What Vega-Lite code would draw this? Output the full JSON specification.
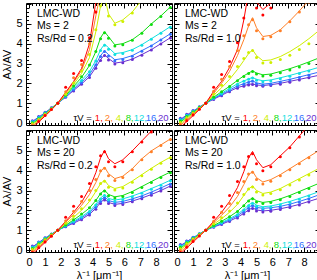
{
"$schema":"https://vega.github.io/schema/vega-lite/v6.json",
"padding":{"left":1,"right":2,"top":2,"bottom":0},
"background":"white",
"config":{"font":"Liberation Sans","view":{"stroke":"black","strokeWidth":1},
"axis":{"domain":false,"grid":false,"tickColor":"black","tickWidth":1,"labelColor":"black","labelFontSize":11,"titleFontSize":11,"titleFontWeight":"normal","titleColor":"black","minExtent":0,"labelFlush":false}},
"datasets":{
"lab":[{"p":1,"x":0.49,"y":5.5,"s":"LMC-WD"},{"p":1,"x":0.49,"y":4.89,"s":"Ms = 2"},{"p":1,"x":0.49,"y":4.26,"s":"Rs/Rd = 0.2"},
{"p":2,"x":0.49,"y":5.5,"s":"LMC-WD"},{"p":2,"x":0.49,"y":4.89,"s":"Ms = 2"},{"p":2,"x":0.49,"y":4.26,"s":"Rs/Rd = 1.0"},
{"p":3,"x":0.49,"y":5.5,"s":"LMC-WD"},{"p":3,"x":0.49,"y":4.89,"s":"Ms = 20"},{"p":3,"x":0.49,"y":4.26,"s":"Rs/Rd = 0.2"},
{"p":4,"x":0.49,"y":5.5,"s":"LMC-WD"},{"p":4,"x":0.49,"y":4.89,"s":"Ms = 20"},{"p":4,"x":0.49,"y":4.26,"s":"Rs/Rd = 1.0"}],
"leg":[{"t":0,"x":3.95,"y":0.25,"s":"τV ="},{"t":1,"x":4.14,"y":0.25,"s":"1,"},{"t":2,"x":4.77,"y":0.25,"s":"2,"},{"t":4,"x":5.46,"y":0.25,"s":"4,"},{"t":8,"x":6.09,"y":0.25,"s":"8,"},{"t":12,"x":6.59,"y":0.25,"s":"12,"},{"t":16,"x":7.35,"y":0.25,"s":"16,"},{"t":20,"x":8.11,"y":0.25,"s":"20"}],
"c":[
{"p":1,"t":20,"x":0.2,"l":0.08,"d":0.12},{"p":1,"t":20,"x":0.6,"l":0.3,"d":0.33},{"p":1,"t":20,"x":1.0,"l":0.52,"d":0.54},{"p":1,"t":20,"x":1.4,"l":0.76,"d":0.77},{"p":1,"t":20,"x":1.8,"l":1.0,"d":1.0},{"p":1,"t":20,"x":2.3,"l":1.3,"d":1.3},{"p":1,"t":20,"x":2.8,"l":1.64,"d":1.62},{"p":1,"t":20,"x":3.3,"l":1.97,"d":1.95},{"p":1,"t":20,"x":3.8,"l":2.33,"d":2.3},{"p":1,"t":20,"x":4.2,"l":2.8,"d":2.76},{"p":1,"t":20,"x":4.5,"l":3.2,"d":3.15},{"p":1,"t":20,"x":4.75,"l":3.44,"d":3.4},{"p":1,"t":20,"x":5.0,"l":3.25,"d":3.18},{"p":1,"t":20,"x":5.4,"l":3.02,"d":2.98},{"p":1,"t":20,"x":5.9,"l":3.08,"d":3.04},{"p":1,"t":20,"x":6.5,"l":3.22,"d":3.2},{"p":1,"t":20,"x":7.1,"l":3.45,"d":3.42},{"p":1,"t":20,"x":7.7,"l":3.7,"d":3.68},{"p":1,"t":20,"x":8.3,"l":4.0,"d":3.98},{"p":1,"t":20,"x":8.9,"l":4.3,"d":4.28},
{"p":1,"t":16,"x":0.2,"l":0.05,"d":0.09},{"p":1,"t":16,"x":0.6,"l":0.28,"d":0.3},{"p":1,"t":16,"x":1.0,"l":0.5,"d":0.52},{"p":1,"t":16,"x":1.4,"l":0.75,"d":0.76},{"p":1,"t":16,"x":1.8,"l":1.0,"d":1.0},{"p":1,"t":16,"x":2.3,"l":1.33,"d":1.33},{"p":1,"t":16,"x":2.8,"l":1.7,"d":1.68},{"p":1,"t":16,"x":3.3,"l":2.05,"d":2.03},{"p":1,"t":16,"x":3.8,"l":2.45,"d":2.42},{"p":1,"t":16,"x":4.2,"l":2.95,"d":2.92},{"p":1,"t":16,"x":4.5,"l":3.4,"d":3.35},{"p":1,"t":16,"x":4.75,"l":3.64,"d":3.6},{"p":1,"t":16,"x":5.0,"l":3.45,"d":3.38},{"p":1,"t":16,"x":5.4,"l":3.19,"d":3.14},{"p":1,"t":16,"x":5.9,"l":3.25,"d":3.2},{"p":1,"t":16,"x":6.5,"l":3.4,"d":3.37},{"p":1,"t":16,"x":7.1,"l":3.65,"d":3.62},{"p":1,"t":16,"x":7.7,"l":3.9,"d":3.88},{"p":1,"t":16,"x":8.3,"l":4.2,"d":4.18},{"p":1,"t":16,"x":8.9,"l":4.5,"d":4.48},
{"p":1,"t":12,"x":0.2,"l":0.02,"d":0.06},{"p":1,"t":12,"x":0.6,"l":0.25,"d":0.27},{"p":1,"t":12,"x":1.0,"l":0.48,"d":0.5},{"p":1,"t":12,"x":1.4,"l":0.74,"d":0.75},{"p":1,"t":12,"x":1.8,"l":1.0,"d":1.0},{"p":1,"t":12,"x":2.3,"l":1.35,"d":1.36},{"p":1,"t":12,"x":2.8,"l":1.78,"d":1.77},{"p":1,"t":12,"x":3.3,"l":2.15,"d":2.14},{"p":1,"t":12,"x":3.8,"l":2.6,"d":2.58},{"p":1,"t":12,"x":4.2,"l":3.15,"d":3.12},{"p":1,"t":12,"x":4.5,"l":3.7,"d":3.65},{"p":1,"t":12,"x":4.75,"l":3.97,"d":3.92},{"p":1,"t":12,"x":5.0,"l":3.8,"d":3.72},{"p":1,"t":12,"x":5.4,"l":3.5,"d":3.45},{"p":1,"t":12,"x":5.9,"l":3.55,"d":3.5},{"p":1,"t":12,"x":6.5,"l":3.7,"d":3.67},{"p":1,"t":12,"x":7.1,"l":3.95,"d":3.92},{"p":1,"t":12,"x":7.7,"l":4.25,"d":4.22},{"p":1,"t":12,"x":8.3,"l":4.55,"d":4.52},{"p":1,"t":12,"x":8.9,"l":4.86,"d":4.83},
{"p":1,"t":8,"x":0.2,"l":-0.03,"d":0.01},{"p":1,"t":8,"x":0.6,"l":0.2,"d":0.22},{"p":1,"t":8,"x":1.0,"l":0.45,"d":0.47},{"p":1,"t":8,"x":1.4,"l":0.72,"d":0.73},{"p":1,"t":8,"x":1.8,"l":1.0,"d":1.0},{"p":1,"t":8,"x":2.3,"l":1.38,"d":1.4},{"p":1,"t":8,"x":2.8,"l":1.85,"d":1.87},{"p":1,"t":8,"x":3.3,"l":2.3,"d":2.33},{"p":1,"t":8,"x":3.8,"l":2.9,"d":2.92},{"p":1,"t":8,"x":4.2,"l":3.6,"d":3.6},{"p":1,"t":8,"x":4.5,"l":4.3,"d":4.25},{"p":1,"t":8,"x":4.75,"l":4.6,"d":4.55},{"p":1,"t":8,"x":5.0,"l":4.35,"d":4.27},{"p":1,"t":8,"x":5.4,"l":3.94,"d":3.88},{"p":1,"t":8,"x":5.9,"l":4.0,"d":3.95},{"p":1,"t":8,"x":6.5,"l":4.2,"d":4.17},{"p":1,"t":8,"x":7.1,"l":4.55,"d":4.52},{"p":1,"t":8,"x":7.7,"l":5.0,"d":4.97},{"p":1,"t":8,"x":8.3,"l":5.4,"d":5.37},{"p":1,"t":8,"x":8.9,"l":5.85,"d":5.82},
{"p":1,"t":4,"x":0.2,"l":-0.08,"d":-0.04},{"p":1,"t":4,"x":0.6,"l":0.15,"d":0.18},{"p":1,"t":4,"x":1.0,"l":0.42,"d":0.44},{"p":1,"t":4,"x":1.4,"l":0.7,"d":0.71},{"p":1,"t":4,"x":1.8,"l":1.0,"d":1.0},{"p":1,"t":4,"x":2.3,"l":1.42,"d":1.45},{"p":1,"t":4,"x":2.8,"l":1.95,"d":2.02},{"p":1,"t":4,"x":3.3,"l":2.5,"d":2.62},{"p":1,"t":4,"x":3.8,"l":3.3,"d":3.45},{"p":1,"t":4,"x":4.2,"l":4.6,"d":4.7},{"p":1,"t":4,"x":4.5,"l":5.9,"d":5.9},{"p":1,"t":4,"x":4.75,"l":6.4,"d":6.3},{"p":1,"t":4,"x":5.0,"l":5.5,"d":5.4},{"p":1,"t":4,"x":5.4,"l":5.03,"d":4.95},{"p":1,"t":4,"x":5.9,"l":5.2,"d":5.12},{"p":1,"t":4,"x":6.5,"l":5.6,"d":5.55},{"p":1,"t":4,"x":7.1,"l":6.2,"d":6.15},{"p":1,"t":4,"x":7.7,"l":6.7,"d":6.65},{"p":1,"t":4,"x":8.3,"l":7.2,"d":7.1},{"p":1,"t":4,"x":8.9,"l":7.6,"d":7.5},
{"p":1,"t":2,"x":0.2,"l":-0.15,"d":-0.1},{"p":1,"t":2,"x":0.6,"l":0.1,"d":0.13},{"p":1,"t":2,"x":1.0,"l":0.38,"d":0.41},{"p":1,"t":2,"x":1.4,"l":0.68,"d":0.7},{"p":1,"t":2,"x":1.8,"l":1.0,"d":1.0},{"p":1,"t":2,"x":2.3,"l":1.5,"d":1.58},{"p":1,"t":2,"x":2.8,"l":2.05,"d":2.28},{"p":1,"t":2,"x":3.3,"l":2.65,"d":2.95},{"p":1,"t":2,"x":3.8,"l":3.7,"d":4.0},{"p":1,"t":2,"x":4.2,"l":5.4,"d":5.6},{"p":1,"t":2,"x":4.5,"l":6.6,"d":6.6},{"p":1,"t":2,"x":4.75,"l":7.2,"d":7.1},{"p":1,"t":2,"x":5.0,"l":6.8,"d":6.7},{"p":1,"t":2,"x":5.4,"l":6.3,"d":6.2},{"p":1,"t":2,"x":5.9,"l":6.5,"d":6.4},{"p":1,"t":2,"x":6.5,"l":6.9,"d":6.8},{"p":1,"t":2,"x":7.1,"l":7.3,"d":7.3},{"p":1,"t":2,"x":7.7,"l":7.9,"d":7.9},{"p":1,"t":2,"x":8.3,"l":8.4,"d":8.4},{"p":1,"t":2,"x":8.9,"l":8.9,"d":8.9},
{"p":1,"t":1,"x":0.2,"l":-0.25,"d":-0.2},{"p":1,"t":1,"x":0.6,"l":0.05,"d":0.08},{"p":1,"t":1,"x":1.0,"l":0.35,"d":0.38},{"p":1,"t":1,"x":1.4,"l":0.66,"d":0.68},{"p":1,"t":1,"x":1.8,"l":1.0,"d":1.0},{"p":1,"t":1,"x":2.3,"l":1.55,"d":1.8},{"p":1,"t":1,"x":2.8,"l":2.1,"d":2.5},{"p":1,"t":1,"x":3.3,"l":2.75,"d":3.15},{"p":1,"t":1,"x":3.8,"l":4.0,"d":4.3},{"p":1,"t":1,"x":4.2,"l":6.1,"d":5.6},{"p":1,"t":1,"x":4.5,"l":7.2,"d":7.0},{"p":1,"t":1,"x":4.75,"l":7.8,"d":7.6},{"p":1,"t":1,"x":5.0,"l":7.4,"d":7.2},{"p":1,"t":1,"x":5.4,"l":6.6,"d":6.5},{"p":1,"t":1,"x":5.9,"l":6.8,"d":6.7},{"p":1,"t":1,"x":6.5,"l":7.3,"d":7.2},{"p":1,"t":1,"x":7.1,"l":7.9,"d":7.8},{"p":1,"t":1,"x":7.7,"l":8.5,"d":8.4},{"p":1,"t":1,"x":8.3,"l":9.0,"d":8.9},{"p":1,"t":1,"x":8.9,"l":9.5,"d":9.4},
{"p":2,"t":20,"x":0.2,"l":0.18,"d":0.24},{"p":2,"t":20,"x":0.6,"l":0.4,"d":0.44},{"p":2,"t":20,"x":1.0,"l":0.6,"d":0.63},{"p":2,"t":20,"x":1.4,"l":0.8,"d":0.82},{"p":2,"t":20,"x":1.8,"l":1.0,"d":1.0},{"p":2,"t":20,"x":2.3,"l":1.2,"d":1.19},{"p":2,"t":20,"x":2.8,"l":1.4,"d":1.38},{"p":2,"t":20,"x":3.3,"l":1.6,"d":1.57},{"p":2,"t":20,"x":3.8,"l":1.78,"d":1.75},{"p":2,"t":20,"x":4.2,"l":1.88,"d":1.85},{"p":2,"t":20,"x":4.5,"l":1.95,"d":1.92},{"p":2,"t":20,"x":4.75,"l":1.97,"d":1.94},{"p":2,"t":20,"x":5.0,"l":1.92,"d":1.88},{"p":2,"t":20,"x":5.4,"l":1.89,"d":1.85},{"p":2,"t":20,"x":5.9,"l":1.93,"d":1.89},{"p":2,"t":20,"x":6.5,"l":2.0,"d":1.96},{"p":2,"t":20,"x":7.1,"l":2.1,"d":2.06},{"p":2,"t":20,"x":7.7,"l":2.2,"d":2.17},{"p":2,"t":20,"x":8.3,"l":2.3,"d":2.28},{"p":2,"t":20,"x":8.9,"l":2.4,"d":2.38},
{"p":2,"t":16,"x":0.2,"l":0.14,"d":0.2},{"p":2,"t":16,"x":0.6,"l":0.37,"d":0.41},{"p":2,"t":16,"x":1.0,"l":0.58,"d":0.61},{"p":2,"t":16,"x":1.4,"l":0.79,"d":0.81},{"p":2,"t":16,"x":1.8,"l":1.0,"d":1.0},{"p":2,"t":16,"x":2.3,"l":1.23,"d":1.22},{"p":2,"t":16,"x":2.8,"l":1.45,"d":1.43},{"p":2,"t":16,"x":3.3,"l":1.66,"d":1.64},{"p":2,"t":16,"x":3.8,"l":1.87,"d":1.85},{"p":2,"t":16,"x":4.2,"l":1.98,"d":1.96},{"p":2,"t":16,"x":4.5,"l":2.07,"d":2.04},{"p":2,"t":16,"x":4.75,"l":2.13,"d":2.1},{"p":2,"t":16,"x":5.0,"l":2.02,"d":1.98},{"p":2,"t":16,"x":5.4,"l":1.96,"d":1.92},{"p":2,"t":16,"x":5.9,"l":2.0,"d":1.96},{"p":2,"t":16,"x":6.5,"l":2.1,"d":2.06},{"p":2,"t":16,"x":7.1,"l":2.2,"d":2.17},{"p":2,"t":16,"x":7.7,"l":2.32,"d":2.29},{"p":2,"t":16,"x":8.3,"l":2.44,"d":2.41},{"p":2,"t":16,"x":8.9,"l":2.56,"d":2.53},
{"p":2,"t":12,"x":0.2,"l":0.1,"d":0.16},{"p":2,"t":12,"x":0.6,"l":0.34,"d":0.38},{"p":2,"t":12,"x":1.0,"l":0.56,"d":0.59},{"p":2,"t":12,"x":1.4,"l":0.78,"d":0.8},{"p":2,"t":12,"x":1.8,"l":1.0,"d":1.0},{"p":2,"t":12,"x":2.3,"l":1.26,"d":1.25},{"p":2,"t":12,"x":2.8,"l":1.5,"d":1.49},{"p":2,"t":12,"x":3.3,"l":1.74,"d":1.72},{"p":2,"t":12,"x":3.8,"l":1.98,"d":1.96},{"p":2,"t":12,"x":4.2,"l":2.12,"d":2.1},{"p":2,"t":12,"x":4.5,"l":2.22,"d":2.2},{"p":2,"t":12,"x":4.75,"l":2.3,"d":2.27},{"p":2,"t":12,"x":5.0,"l":2.2,"d":2.15},{"p":2,"t":12,"x":5.4,"l":2.13,"d":2.08},{"p":2,"t":12,"x":5.9,"l":2.17,"d":2.12},{"p":2,"t":12,"x":6.5,"l":2.28,"d":2.23},{"p":2,"t":12,"x":7.1,"l":2.4,"d":2.36},{"p":2,"t":12,"x":7.7,"l":2.53,"d":2.49},{"p":2,"t":12,"x":8.3,"l":2.66,"d":2.62},{"p":2,"t":12,"x":8.9,"l":2.8,"d":2.76},
{"p":2,"t":8,"x":0.2,"l":0.04,"d":0.1},{"p":2,"t":8,"x":0.6,"l":0.29,"d":0.33},{"p":2,"t":8,"x":1.0,"l":0.53,"d":0.56},{"p":2,"t":8,"x":1.4,"l":0.76,"d":0.78},{"p":2,"t":8,"x":1.8,"l":1.0,"d":1.0},{"p":2,"t":8,"x":2.3,"l":1.3,"d":1.3},{"p":2,"t":8,"x":2.8,"l":1.58,"d":1.57},{"p":2,"t":8,"x":3.3,"l":1.85,"d":1.84},{"p":2,"t":8,"x":3.8,"l":2.15,"d":2.13},{"p":2,"t":8,"x":4.2,"l":2.38,"d":2.35},{"p":2,"t":8,"x":4.5,"l":2.52,"d":2.5},{"p":2,"t":8,"x":4.75,"l":2.63,"d":2.6},{"p":2,"t":8,"x":5.0,"l":2.52,"d":2.47},{"p":2,"t":8,"x":5.4,"l":2.43,"d":2.37},{"p":2,"t":8,"x":5.9,"l":2.47,"d":2.41},{"p":2,"t":8,"x":6.5,"l":2.6,"d":2.53},{"p":2,"t":8,"x":7.1,"l":2.74,"d":2.67},{"p":2,"t":8,"x":7.7,"l":2.9,"d":2.83},{"p":2,"t":8,"x":8.3,"l":3.08,"d":3.0},{"p":2,"t":8,"x":8.9,"l":3.27,"d":3.18},
{"p":2,"t":4,"x":0.2,"l":-0.04,"d":0.02},{"p":2,"t":4,"x":0.6,"l":0.22,"d":0.26},{"p":2,"t":4,"x":1.0,"l":0.48,"d":0.51},{"p":2,"t":4,"x":1.4,"l":0.74,"d":0.75},{"p":2,"t":4,"x":1.8,"l":1.0,"d":1.0},{"p":2,"t":4,"x":2.3,"l":1.4,"d":1.45},{"p":2,"t":4,"x":2.8,"l":1.78,"d":1.9},{"p":2,"t":4,"x":3.3,"l":2.2,"d":2.35},{"p":2,"t":4,"x":3.8,"l":2.7,"d":2.85},{"p":2,"t":4,"x":4.2,"l":3.15,"d":3.25},{"p":2,"t":4,"x":4.5,"l":3.5,"d":3.55},{"p":2,"t":4,"x":4.75,"l":3.69,"d":3.65},{"p":2,"t":4,"x":5.0,"l":3.4,"d":3.3},{"p":2,"t":4,"x":5.4,"l":3.14,"d":3.02},{"p":2,"t":4,"x":5.9,"l":3.18,"d":3.05},{"p":2,"t":4,"x":6.5,"l":3.35,"d":3.2},{"p":2,"t":4,"x":7.1,"l":3.6,"d":3.42},{"p":2,"t":4,"x":7.7,"l":3.9,"d":3.7},{"p":2,"t":4,"x":8.3,"l":4.25,"d":4.0},{"p":2,"t":4,"x":8.9,"l":4.64,"d":4.36},
{"p":2,"t":2,"x":0.2,"l":-0.12,"d":-0.06},{"p":2,"t":2,"x":0.6,"l":0.14,"d":0.18},{"p":2,"t":2,"x":1.0,"l":0.42,"d":0.45},{"p":2,"t":2,"x":1.4,"l":0.71,"d":0.72},{"p":2,"t":2,"x":1.8,"l":1.0,"d":1.0},{"p":2,"t":2,"x":2.3,"l":1.5,"d":1.6},{"p":2,"t":2,"x":2.8,"l":2.0,"d":2.2},{"p":2,"t":2,"x":3.3,"l":2.6,"d":2.85},{"p":2,"t":2,"x":3.8,"l":3.4,"d":3.65},{"p":2,"t":2,"x":4.2,"l":4.2,"d":4.4},{"p":2,"t":2,"x":4.5,"l":4.9,"d":4.95},{"p":2,"t":2,"x":4.75,"l":5.31,"d":5.2},{"p":2,"t":2,"x":5.0,"l":4.8,"d":4.65},{"p":2,"t":2,"x":5.4,"l":4.36,"d":4.25},{"p":2,"t":2,"x":5.9,"l":4.42,"d":4.35},{"p":2,"t":2,"x":6.5,"l":4.7,"d":4.65},{"p":2,"t":2,"x":7.1,"l":5.15,"d":5.1},{"p":2,"t":2,"x":7.7,"l":5.65,"d":5.6},{"p":2,"t":2,"x":8.3,"l":6.2,"d":6.1},{"p":2,"t":2,"x":8.9,"l":6.8,"d":6.7},
{"p":2,"t":1,"x":0.2,"l":-0.22,"d":-0.16},{"p":2,"t":1,"x":0.6,"l":0.07,"d":0.11},{"p":2,"t":1,"x":1.0,"l":0.37,"d":0.4},{"p":2,"t":1,"x":1.4,"l":0.68,"d":0.7},{"p":2,"t":1,"x":1.8,"l":1.0,"d":1.0},{"p":2,"t":1,"x":2.3,"l":1.6,"d":1.8},{"p":2,"t":1,"x":2.8,"l":2.1,"d":2.45},{"p":2,"t":1,"x":3.3,"l":2.8,"d":3.1},{"p":2,"t":1,"x":3.8,"l":3.7,"d":4.05},{"p":2,"t":1,"x":4.2,"l":5.2,"d":5.3},{"p":2,"t":1,"x":4.5,"l":6.6,"d":6.4},{"p":2,"t":1,"x":4.75,"l":7.1,"d":6.8},{"p":2,"t":1,"x":5.0,"l":6.1,"d":5.8},{"p":2,"t":1,"x":5.4,"l":5.72,"d":5.45},{"p":2,"t":1,"x":5.9,"l":6.05,"d":5.8},{"p":2,"t":1,"x":6.5,"l":6.6,"d":6.4},{"p":2,"t":1,"x":7.1,"l":7.2,"d":7.0},{"p":2,"t":1,"x":7.7,"l":7.8,"d":7.6},{"p":2,"t":1,"x":8.3,"l":8.4,"d":8.2},{"p":2,"t":1,"x":8.9,"l":9.0,"d":8.8},
{"p":3,"t":20,"x":0.2,"l":0.15,"d":0.2},{"p":3,"t":20,"x":0.6,"l":0.38,"d":0.41},{"p":3,"t":20,"x":1.0,"l":0.6,"d":0.62},{"p":3,"t":20,"x":1.4,"l":0.8,"d":0.81},{"p":3,"t":20,"x":1.8,"l":1.0,"d":1.0},{"p":3,"t":20,"x":2.3,"l":1.18,"d":1.17},{"p":3,"t":20,"x":2.8,"l":1.35,"d":1.34},{"p":3,"t":20,"x":3.3,"l":1.55,"d":1.53},{"p":3,"t":20,"x":3.8,"l":1.8,"d":1.77},{"p":3,"t":20,"x":4.2,"l":2.1,"d":2.06},{"p":3,"t":20,"x":4.5,"l":2.4,"d":2.35},{"p":3,"t":20,"x":4.75,"l":2.57,"d":2.52},{"p":3,"t":20,"x":5.0,"l":2.4,"d":2.34},{"p":3,"t":20,"x":5.4,"l":2.3,"d":2.25},{"p":3,"t":20,"x":5.9,"l":2.35,"d":2.3},{"p":3,"t":20,"x":6.5,"l":2.47,"d":2.43},{"p":3,"t":20,"x":7.1,"l":2.62,"d":2.58},{"p":3,"t":20,"x":7.7,"l":2.8,"d":2.76},{"p":3,"t":20,"x":8.3,"l":3.0,"d":2.97},{"p":3,"t":20,"x":8.9,"l":3.23,"d":3.2},
{"p":3,"t":16,"x":0.2,"l":0.12,"d":0.17},{"p":3,"t":16,"x":0.6,"l":0.36,"d":0.39},{"p":3,"t":16,"x":1.0,"l":0.58,"d":0.6},{"p":3,"t":16,"x":1.4,"l":0.79,"d":0.8},{"p":3,"t":16,"x":1.8,"l":1.0,"d":1.0},{"p":3,"t":16,"x":2.3,"l":1.2,"d":1.19},{"p":3,"t":16,"x":2.8,"l":1.4,"d":1.39},{"p":3,"t":16,"x":3.3,"l":1.62,"d":1.6},{"p":3,"t":16,"x":3.8,"l":1.88,"d":1.85},{"p":3,"t":16,"x":4.2,"l":2.2,"d":2.16},{"p":3,"t":16,"x":4.5,"l":2.5,"d":2.45},{"p":3,"t":16,"x":4.75,"l":2.68,"d":2.63},{"p":3,"t":16,"x":5.0,"l":2.5,"d":2.44},{"p":3,"t":16,"x":5.4,"l":2.4,"d":2.35},{"p":3,"t":16,"x":5.9,"l":2.45,"d":2.4},{"p":3,"t":16,"x":6.5,"l":2.58,"d":2.54},{"p":3,"t":16,"x":7.1,"l":2.73,"d":2.69},{"p":3,"t":16,"x":7.7,"l":2.92,"d":2.88},{"p":3,"t":16,"x":8.3,"l":3.13,"d":3.1},{"p":3,"t":16,"x":8.9,"l":3.35,"d":3.32},
{"p":3,"t":12,"x":0.2,"l":0.08,"d":0.13},{"p":3,"t":12,"x":0.6,"l":0.33,"d":0.36},{"p":3,"t":12,"x":1.0,"l":0.56,"d":0.58},{"p":3,"t":12,"x":1.4,"l":0.78,"d":0.79},{"p":3,"t":12,"x":1.8,"l":1.0,"d":1.0},{"p":3,"t":12,"x":2.3,"l":1.22,"d":1.22},{"p":3,"t":12,"x":2.8,"l":1.45,"d":1.44},{"p":3,"t":12,"x":3.3,"l":1.68,"d":1.67},{"p":3,"t":12,"x":3.8,"l":1.96,"d":1.94},{"p":3,"t":12,"x":4.2,"l":2.3,"d":2.27},{"p":3,"t":12,"x":4.5,"l":2.62,"d":2.57},{"p":3,"t":12,"x":4.75,"l":2.8,"d":2.75},{"p":3,"t":12,"x":5.0,"l":2.6,"d":2.54},{"p":3,"t":12,"x":5.4,"l":2.52,"d":2.46},{"p":3,"t":12,"x":5.9,"l":2.58,"d":2.53},{"p":3,"t":12,"x":6.5,"l":2.72,"d":2.68},{"p":3,"t":12,"x":7.1,"l":2.9,"d":2.86},{"p":3,"t":12,"x":7.7,"l":3.1,"d":3.06},{"p":3,"t":12,"x":8.3,"l":3.3,"d":3.27},{"p":3,"t":12,"x":8.9,"l":3.52,"d":3.49},
{"p":3,"t":8,"x":0.2,"l":0.02,"d":0.08},{"p":3,"t":8,"x":0.6,"l":0.28,"d":0.32},{"p":3,"t":8,"x":1.0,"l":0.53,"d":0.55},{"p":3,"t":8,"x":1.4,"l":0.77,"d":0.78},{"p":3,"t":8,"x":1.8,"l":1.0,"d":1.0},{"p":3,"t":8,"x":2.3,"l":1.25,"d":1.26},{"p":3,"t":8,"x":2.8,"l":1.52,"d":1.53},{"p":3,"t":8,"x":3.3,"l":1.8,"d":1.81},{"p":3,"t":8,"x":3.8,"l":2.12,"d":2.13},{"p":3,"t":8,"x":4.2,"l":2.5,"d":2.5},{"p":3,"t":8,"x":4.5,"l":2.85,"d":2.82},{"p":3,"t":8,"x":4.75,"l":3.02,"d":2.97},{"p":3,"t":8,"x":5.0,"l":2.8,"d":2.73},{"p":3,"t":8,"x":5.4,"l":2.68,"d":2.62},{"p":3,"t":8,"x":5.9,"l":2.75,"d":2.7},{"p":3,"t":8,"x":6.5,"l":2.95,"d":2.9},{"p":3,"t":8,"x":7.1,"l":3.2,"d":3.15},{"p":3,"t":8,"x":7.7,"l":3.45,"d":3.4},{"p":3,"t":8,"x":8.3,"l":3.7,"d":3.66},{"p":3,"t":8,"x":8.9,"l":3.93,"d":3.9},
{"p":3,"t":4,"x":0.2,"l":-0.05,"d":0.02},{"p":3,"t":4,"x":0.6,"l":0.22,"d":0.26},{"p":3,"t":4,"x":1.0,"l":0.49,"d":0.52},{"p":3,"t":4,"x":1.4,"l":0.75,"d":0.76},{"p":3,"t":4,"x":1.8,"l":1.0,"d":1.0},{"p":3,"t":4,"x":2.3,"l":1.32,"d":1.35},{"p":3,"t":4,"x":2.8,"l":1.65,"d":1.7},{"p":3,"t":4,"x":3.3,"l":2.0,"d":2.08},{"p":3,"t":4,"x":3.8,"l":2.45,"d":2.52},{"p":3,"t":4,"x":4.2,"l":2.95,"d":3.0},{"p":3,"t":4,"x":4.5,"l":3.35,"d":3.35},{"p":3,"t":4,"x":4.75,"l":3.52,"d":3.47},{"p":3,"t":4,"x":5.0,"l":3.25,"d":3.17},{"p":3,"t":4,"x":5.4,"l":3.1,"d":3.02},{"p":3,"t":4,"x":5.9,"l":3.2,"d":3.13},{"p":3,"t":4,"x":6.5,"l":3.48,"d":3.42},{"p":3,"t":4,"x":7.1,"l":3.8,"d":3.75},{"p":3,"t":4,"x":7.7,"l":4.12,"d":4.07},{"p":3,"t":4,"x":8.3,"l":4.42,"d":4.38},{"p":3,"t":4,"x":8.9,"l":4.68,"d":4.65},
{"p":3,"t":2,"x":0.2,"l":-0.12,"d":-0.05},{"p":3,"t":2,"x":0.6,"l":0.15,"d":0.19},{"p":3,"t":2,"x":1.0,"l":0.44,"d":0.47},{"p":3,"t":2,"x":1.4,"l":0.72,"d":0.73},{"p":3,"t":2,"x":1.8,"l":1.0,"d":1.0},{"p":3,"t":2,"x":2.3,"l":1.4,"d":1.48},{"p":3,"t":2,"x":2.8,"l":1.8,"d":1.95},{"p":3,"t":2,"x":3.3,"l":2.25,"d":2.45},{"p":3,"t":2,"x":3.8,"l":2.8,"d":3.0},{"p":3,"t":2,"x":4.2,"l":3.4,"d":3.55},{"p":3,"t":2,"x":4.5,"l":3.95,"d":4.0},{"p":3,"t":2,"x":4.75,"l":4.18,"d":4.12},{"p":3,"t":2,"x":5.0,"l":3.85,"d":3.75},{"p":3,"t":2,"x":5.4,"l":3.6,"d":3.5},{"p":3,"t":2,"x":5.9,"l":3.72,"d":3.65},{"p":3,"t":2,"x":6.5,"l":4.1,"d":4.05},{"p":3,"t":2,"x":7.1,"l":4.6,"d":4.55},{"p":3,"t":2,"x":7.7,"l":5.0,"d":4.95},{"p":3,"t":2,"x":8.3,"l":5.3,"d":5.27},{"p":3,"t":2,"x":8.9,"l":5.6,"d":5.57},
{"p":3,"t":1,"x":0.2,"l":-0.2,"d":-0.13},{"p":3,"t":1,"x":0.6,"l":0.08,"d":0.12},{"p":3,"t":1,"x":1.0,"l":0.38,"d":0.41},{"p":3,"t":1,"x":1.4,"l":0.69,"d":0.7},{"p":3,"t":1,"x":1.8,"l":1.0,"d":1.0},{"p":3,"t":1,"x":2.3,"l":1.45,"d":1.65},{"p":3,"t":1,"x":2.8,"l":1.9,"d":2.2},{"p":3,"t":1,"x":3.3,"l":2.4,"d":2.7},{"p":3,"t":1,"x":3.8,"l":3.1,"d":3.35},{"p":3,"t":1,"x":4.2,"l":3.9,"d":4.2},{"p":3,"t":1,"x":4.5,"l":4.65,"d":4.75},{"p":3,"t":1,"x":4.75,"l":5.02,"d":4.95},{"p":3,"t":1,"x":5.0,"l":4.6,"d":4.45},{"p":3,"t":1,"x":5.4,"l":4.35,"d":4.2},{"p":3,"t":1,"x":5.9,"l":4.55,"d":4.45},{"p":3,"t":1,"x":6.5,"l":5.0,"d":4.95},{"p":3,"t":1,"x":7.1,"l":5.5,"d":5.45},{"p":3,"t":1,"x":7.7,"l":6.0,"d":5.95},{"p":3,"t":1,"x":8.3,"l":6.5,"d":6.45},{"p":3,"t":1,"x":8.9,"l":7.0,"d":6.95},
{"p":4,"t":20,"x":0.2,"l":0.22,"d":0.28},{"p":4,"t":20,"x":0.6,"l":0.42,"d":0.46},{"p":4,"t":20,"x":1.0,"l":0.62,"d":0.64},{"p":4,"t":20,"x":1.4,"l":0.81,"d":0.82},{"p":4,"t":20,"x":1.8,"l":1.0,"d":1.0},{"p":4,"t":20,"x":2.3,"l":1.16,"d":1.15},{"p":4,"t":20,"x":2.8,"l":1.3,"d":1.29},{"p":4,"t":20,"x":3.3,"l":1.46,"d":1.44},{"p":4,"t":20,"x":3.8,"l":1.65,"d":1.62},{"p":4,"t":20,"x":4.2,"l":1.85,"d":1.82},{"p":4,"t":20,"x":4.5,"l":2.02,"d":1.98},{"p":4,"t":20,"x":4.75,"l":2.13,"d":2.09},{"p":4,"t":20,"x":5.0,"l":2.02,"d":1.97},{"p":4,"t":20,"x":5.4,"l":1.97,"d":1.92},{"p":4,"t":20,"x":5.9,"l":2.0,"d":1.96},{"p":4,"t":20,"x":6.5,"l":2.08,"d":2.04},{"p":4,"t":20,"x":7.1,"l":2.18,"d":2.14},{"p":4,"t":20,"x":7.7,"l":2.3,"d":2.27},{"p":4,"t":20,"x":8.3,"l":2.45,"d":2.42},{"p":4,"t":20,"x":8.9,"l":2.6,"d":2.58},
{"p":4,"t":16,"x":0.2,"l":0.18,"d":0.24},{"p":4,"t":16,"x":0.6,"l":0.4,"d":0.44},{"p":4,"t":16,"x":1.0,"l":0.61,"d":0.63},{"p":4,"t":16,"x":1.4,"l":0.8,"d":0.81},{"p":4,"t":16,"x":1.8,"l":1.0,"d":1.0},{"p":4,"t":16,"x":2.3,"l":1.18,"d":1.17},{"p":4,"t":16,"x":2.8,"l":1.34,"d":1.33},{"p":4,"t":16,"x":3.3,"l":1.52,"d":1.5},{"p":4,"t":16,"x":3.8,"l":1.73,"d":1.7},{"p":4,"t":16,"x":4.2,"l":1.95,"d":1.92},{"p":4,"t":16,"x":4.5,"l":2.15,"d":2.11},{"p":4,"t":16,"x":4.75,"l":2.27,"d":2.23},{"p":4,"t":16,"x":5.0,"l":2.15,"d":2.1},{"p":4,"t":16,"x":5.4,"l":2.1,"d":2.04},{"p":4,"t":16,"x":5.9,"l":2.13,"d":2.08},{"p":4,"t":16,"x":6.5,"l":2.2,"d":2.16},{"p":4,"t":16,"x":7.1,"l":2.31,"d":2.27},{"p":4,"t":16,"x":7.7,"l":2.45,"d":2.41},{"p":4,"t":16,"x":8.3,"l":2.6,"d":2.57},{"p":4,"t":16,"x":8.9,"l":2.77,"d":2.74},
{"p":4,"t":12,"x":0.2,"l":0.14,"d":0.2},{"p":4,"t":12,"x":0.6,"l":0.37,"d":0.41},{"p":4,"t":12,"x":1.0,"l":0.59,"d":0.61},{"p":4,"t":12,"x":1.4,"l":0.8,"d":0.81},{"p":4,"t":12,"x":1.8,"l":1.0,"d":1.0},{"p":4,"t":12,"x":2.3,"l":1.2,"d":1.19},{"p":4,"t":12,"x":2.8,"l":1.38,"d":1.37},{"p":4,"t":12,"x":3.3,"l":1.58,"d":1.56},{"p":4,"t":12,"x":3.8,"l":1.8,"d":1.78},{"p":4,"t":12,"x":4.2,"l":2.05,"d":2.02},{"p":4,"t":12,"x":4.5,"l":2.27,"d":2.23},{"p":4,"t":12,"x":4.75,"l":2.4,"d":2.35},{"p":4,"t":12,"x":5.0,"l":2.26,"d":2.2},{"p":4,"t":12,"x":5.4,"l":2.18,"d":2.12},{"p":4,"t":12,"x":5.9,"l":2.22,"d":2.17},{"p":4,"t":12,"x":6.5,"l":2.32,"d":2.28},{"p":4,"t":12,"x":7.1,"l":2.45,"d":2.41},{"p":4,"t":12,"x":7.7,"l":2.6,"d":2.56},{"p":4,"t":12,"x":8.3,"l":2.76,"d":2.72},{"p":4,"t":12,"x":8.9,"l":2.93,"d":2.9},
{"p":4,"t":8,"x":0.2,"l":0.08,"d":0.14},{"p":4,"t":8,"x":0.6,"l":0.33,"d":0.37},{"p":4,"t":8,"x":1.0,"l":0.56,"d":0.58},{"p":4,"t":8,"x":1.4,"l":0.78,"d":0.79},{"p":4,"t":8,"x":1.8,"l":1.0,"d":1.0},{"p":4,"t":8,"x":2.3,"l":1.23,"d":1.23},{"p":4,"t":8,"x":2.8,"l":1.45,"d":1.45},{"p":4,"t":8,"x":3.3,"l":1.68,"d":1.68},{"p":4,"t":8,"x":3.8,"l":1.95,"d":1.94},{"p":4,"t":8,"x":4.2,"l":2.25,"d":2.23},{"p":4,"t":8,"x":4.5,"l":2.5,"d":2.47},{"p":4,"t":8,"x":4.75,"l":2.63,"d":2.58},{"p":4,"t":8,"x":5.0,"l":2.48,"d":2.42},{"p":4,"t":8,"x":5.4,"l":2.4,"d":2.34},{"p":4,"t":8,"x":5.9,"l":2.45,"d":2.4},{"p":4,"t":8,"x":6.5,"l":2.58,"d":2.53},{"p":4,"t":8,"x":7.1,"l":2.75,"d":2.7},{"p":4,"t":8,"x":7.7,"l":2.95,"d":2.9},{"p":4,"t":8,"x":8.3,"l":3.15,"d":3.1},{"p":4,"t":8,"x":8.9,"l":3.35,"d":3.3},
{"p":4,"t":4,"x":0.2,"l":0.0,"d":0.06},{"p":4,"t":4,"x":0.6,"l":0.27,"d":0.31},{"p":4,"t":4,"x":1.0,"l":0.52,"d":0.55},{"p":4,"t":4,"x":1.4,"l":0.76,"d":0.77},{"p":4,"t":4,"x":1.8,"l":1.0,"d":1.0},{"p":4,"t":4,"x":2.3,"l":1.3,"d":1.33},{"p":4,"t":4,"x":2.8,"l":1.58,"d":1.63},{"p":4,"t":4,"x":3.3,"l":1.9,"d":1.97},{"p":4,"t":4,"x":3.8,"l":2.3,"d":2.37},{"p":4,"t":4,"x":4.2,"l":2.75,"d":2.8},{"p":4,"t":4,"x":4.5,"l":3.08,"d":3.08},{"p":4,"t":4,"x":4.75,"l":3.23,"d":3.18},{"p":4,"t":4,"x":5.0,"l":3.0,"d":2.92},{"p":4,"t":4,"x":5.4,"l":2.85,"d":2.77},{"p":4,"t":4,"x":5.9,"l":2.92,"d":2.85},{"p":4,"t":4,"x":6.5,"l":3.1,"d":3.04},{"p":4,"t":4,"x":7.1,"l":3.35,"d":3.28},{"p":4,"t":4,"x":7.7,"l":3.6,"d":3.53},{"p":4,"t":4,"x":8.3,"l":3.85,"d":3.78},{"p":4,"t":4,"x":8.9,"l":4.1,"d":4.03},
{"p":4,"t":2,"x":0.2,"l":-0.1,"d":-0.03},{"p":4,"t":2,"x":0.6,"l":0.18,"d":0.22},{"p":4,"t":2,"x":1.0,"l":0.46,"d":0.49},{"p":4,"t":2,"x":1.4,"l":0.73,"d":0.74},{"p":4,"t":2,"x":1.8,"l":1.0,"d":1.0},{"p":4,"t":2,"x":2.3,"l":1.38,"d":1.45},{"p":4,"t":2,"x":2.8,"l":1.75,"d":1.9},{"p":4,"t":2,"x":3.3,"l":2.17,"d":2.35},{"p":4,"t":2,"x":3.8,"l":2.7,"d":2.9},{"p":4,"t":2,"x":4.2,"l":3.3,"d":3.45},{"p":4,"t":2,"x":4.5,"l":3.78,"d":3.83},{"p":4,"t":2,"x":4.75,"l":3.97,"d":3.92},{"p":4,"t":2,"x":5.0,"l":3.65,"d":3.55},{"p":4,"t":2,"x":5.4,"l":3.43,"d":3.33},{"p":4,"t":2,"x":5.9,"l":3.55,"d":3.47},{"p":4,"t":2,"x":6.5,"l":3.8,"d":3.75},{"p":4,"t":2,"x":7.1,"l":4.1,"d":4.05},{"p":4,"t":2,"x":7.7,"l":4.4,"d":4.35},{"p":4,"t":2,"x":8.3,"l":4.7,"d":4.65},{"p":4,"t":2,"x":8.9,"l":5.0,"d":4.95},
{"p":4,"t":1,"x":0.2,"l":-0.2,"d":-0.12},{"p":4,"t":1,"x":0.6,"l":0.1,"d":0.14},{"p":4,"t":1,"x":1.0,"l":0.4,"d":0.43},{"p":4,"t":1,"x":1.4,"l":0.7,"d":0.71},{"p":4,"t":1,"x":1.8,"l":1.0,"d":1.0},{"p":4,"t":1,"x":2.3,"l":1.45,"d":1.65},{"p":4,"t":1,"x":2.8,"l":1.9,"d":2.2},{"p":4,"t":1,"x":3.3,"l":2.45,"d":2.75},{"p":4,"t":1,"x":3.8,"l":3.15,"d":3.45},{"p":4,"t":1,"x":4.2,"l":3.95,"d":4.2},{"p":4,"t":1,"x":4.5,"l":4.65,"d":4.72},{"p":4,"t":1,"x":4.75,"l":4.97,"d":4.85},{"p":4,"t":1,"x":5.0,"l":4.55,"d":4.35},{"p":4,"t":1,"x":5.4,"l":4.15,"d":4.0},{"p":4,"t":1,"x":5.9,"l":4.3,"d":4.2},{"p":4,"t":1,"x":6.5,"l":4.75,"d":4.7},{"p":4,"t":1,"x":7.1,"l":5.2,"d":5.15},{"p":4,"t":1,"x":7.7,"l":5.75,"d":5.7},{"p":4,"t":1,"x":8.3,"l":6.3,"d":6.25},{"p":4,"t":1,"x":8.9,"l":6.9,"d":6.85}
]},
"vconcat":[
{"hconcat":[
{"width":146,"height":122,"resolve":{"axis":{"x":"independent","y":"independent"}},"layer":[
{"data":{"name":"c"},"transform":[{"filter":"datum.p===1"}],"mark":{"type":"line","strokeWidth":1,"clip":true},"encoding":{
"x":{"field":"x","type":"quantitative","scale":{"domain":[-0.2,9.0],"nice":false,"zero":false},"axis":{"orient":"bottom","values":[0,0.2,0.4,0.6,0.8,1,1.2,1.4,1.6,1.8,2,2.2,2.4,2.6,2.8,3,3.2,3.4,3.6,3.8,4,4.2,4.4,4.6,4.8,5,5.2,5.4,5.6,5.8,6,6.2,6.4,6.6,6.8,7,7.2,7.4,7.6,7.8,8,8.2,8.4,8.6,8.8],"labels":false,"title":null,"tickSize":{"condition":{"test":"datum.value % 1 === 0","value":-5},"value":-2.5}}},
"y":{"field":"l","type":"quantitative","scale":{"domain":[-0.1,6.05],"nice":false,"zero":false},"axis":{"orient":"left","values":[0,0.2,0.4,0.6,0.8,1,1.2,1.4,1.6,1.8,2,2.2,2.4,2.6,2.8,3,3.2,3.4,3.6,3.8,4,4.2,4.4,4.6,4.8,5,5.2,5.4,5.6,5.8,6],"labelExpr":"datum.value % 1 === 0 && datum.value < 6 ? '' + datum.value : ''","labelPadding":9,"title":"Aλ/AV","titlePadding":3,"tickSize":{"condition":{"test":"datum.value % 1 === 0","value":-5},"value":-2.5}}},
"color":{"field":"t","type":"ordinal","scale":{"domain":[1,2,4,8,12,16,20],"range":["#ff0000","#ff7f27","#cfef00","#10dd10","#10e0e0","#2f6fff","#6a2fd0"]},"legend":null}}},
{"data":{"name":"c"},"transform":[{"filter":"datum.p===1"}],"mark":{"type":"circle","size":9,"opacity":1,"clip":true},"encoding":{
"x":{"field":"x","type":"quantitative","scale":{"domain":[-0.2,9.0],"nice":false,"zero":false},"axis":{"orient":"top","values":[0,0.2,0.4,0.6,0.8,1,1.2,1.4,1.6,1.8,2,2.2,2.4,2.6,2.8,3,3.2,3.4,3.6,3.8,4,4.2,4.4,4.6,4.8,5,5.2,5.4,5.6,5.8,6,6.2,6.4,6.6,6.8,7,7.2,7.4,7.6,7.8,8,8.2,8.4,8.6,8.8],"labels":false,"title":null,"tickSize":{"condition":{"test":"datum.value % 1 === 0","value":-5},"value":-2.5}}},
"y":{"field":"d","type":"quantitative","scale":{"domain":[-0.1,6.05],"nice":false,"zero":false},"axis":{"orient":"right","values":[0,0.2,0.4,0.6,0.8,1,1.2,1.4,1.6,1.8,2,2.2,2.4,2.6,2.8,3,3.2,3.4,3.6,3.8,4,4.2,4.4,4.6,4.8,5,5.2,5.4,5.6,5.8,6],"labels":false,"title":null,"tickSize":{"condition":{"test":"datum.value % 1 === 0","value":-5},"value":-2.5}}},
"color":{"field":"t","type":"ordinal","scale":{"domain":[1,2,4,8,12,16,20],"range":["#ff0000","#ff7f27","#cfef00","#10dd10","#10e0e0","#2f6fff","#6a2fd0"]},"legend":null}}},
{"data":{"name":"lab"},"transform":[{"filter":"datum.p===1"}],"mark":{"type":"text","align":"left","baseline":"middle","fontSize":10.5,"color":"black"},"encoding":{"x":{"field":"x","type":"quantitative","axis":null},"y":{"field":"y","type":"quantitative","axis":null},"text":{"field":"s"}}},
{"data":{"name":"leg"},"transform":[{"filter":"datum.t>0"}],"mark":{"type":"text","align":"left","baseline":"middle","fontSize":9.5},"encoding":{"x":{"field":"x","type":"quantitative","axis":null},"y":{"field":"y","type":"quantitative","axis":null},"text":{"field":"s"},"color":{"field":"t","type":"ordinal","legend":null}}},
{"data":{"name":"leg"},"transform":[{"filter":"datum.t===0"}],"mark":{"type":"text","align":"right","baseline":"middle","fontSize":9.5,"color":"black"},"encoding":{"x":{"field":"x","type":"quantitative","axis":null},"y":{"field":"y","type":"quantitative","axis":null},"text":{"field":"s"}}}
]},
{"width":146,"height":122,"resolve":{"axis":{"x":"independent","y":"independent"}},"layer":[
{"data":{"name":"c"},"transform":[{"filter":"datum.p===2"}],"mark":{"type":"line","strokeWidth":1,"clip":true},"encoding":{
"x":{"field":"x","type":"quantitative","scale":{"domain":[-0.2,9.0],"nice":false,"zero":false},"axis":{"orient":"bottom","values":[0,0.2,0.4,0.6,0.8,1,1.2,1.4,1.6,1.8,2,2.2,2.4,2.6,2.8,3,3.2,3.4,3.6,3.8,4,4.2,4.4,4.6,4.8,5,5.2,5.4,5.6,5.8,6,6.2,6.4,6.6,6.8,7,7.2,7.4,7.6,7.8,8,8.2,8.4,8.6,8.8],"labels":false,"title":null,"tickSize":{"condition":{"test":"datum.value % 1 === 0","value":-5},"value":-2.5}}},
"y":{"field":"l","type":"quantitative","scale":{"domain":[-0.1,6.05],"nice":false,"zero":false},"axis":{"orient":"left","values":[0,0.2,0.4,0.6,0.8,1,1.2,1.4,1.6,1.8,2,2.2,2.4,2.6,2.8,3,3.2,3.4,3.6,3.8,4,4.2,4.4,4.6,4.8,5,5.2,5.4,5.6,5.8,6],"labels":false,"title":null,"tickSize":{"condition":{"test":"datum.value % 1 === 0","value":-5},"value":-2.5}}},
"color":{"field":"t","type":"ordinal","scale":{"domain":[1,2,4,8,12,16,20],"range":["#ff0000","#ff7f27","#cfef00","#10dd10","#10e0e0","#2f6fff","#6a2fd0"]},"legend":null}}},
{"data":{"name":"c"},"transform":[{"filter":"datum.p===2"}],"mark":{"type":"circle","size":9,"opacity":1,"clip":true},"encoding":{
"x":{"field":"x","type":"quantitative","scale":{"domain":[-0.2,9.0],"nice":false,"zero":false},"axis":{"orient":"top","values":[0,0.2,0.4,0.6,0.8,1,1.2,1.4,1.6,1.8,2,2.2,2.4,2.6,2.8,3,3.2,3.4,3.6,3.8,4,4.2,4.4,4.6,4.8,5,5.2,5.4,5.6,5.8,6,6.2,6.4,6.6,6.8,7,7.2,7.4,7.6,7.8,8,8.2,8.4,8.6,8.8],"labels":false,"title":null,"tickSize":{"condition":{"test":"datum.value % 1 === 0","value":-5},"value":-2.5}}},
"y":{"field":"d","type":"quantitative","scale":{"domain":[-0.1,6.05],"nice":false,"zero":false},"axis":{"orient":"right","values":[0,0.2,0.4,0.6,0.8,1,1.2,1.4,1.6,1.8,2,2.2,2.4,2.6,2.8,3,3.2,3.4,3.6,3.8,4,4.2,4.4,4.6,4.8,5,5.2,5.4,5.6,5.8,6],"labels":false,"title":null,"tickSize":{"condition":{"test":"datum.value % 1 === 0","value":-5},"value":-2.5}}},
"color":{"field":"t","type":"ordinal","scale":{"domain":[1,2,4,8,12,16,20],"range":["#ff0000","#ff7f27","#cfef00","#10dd10","#10e0e0","#2f6fff","#6a2fd0"]},"legend":null}}},
{"data":{"name":"lab"},"transform":[{"filter":"datum.p===2"}],"mark":{"type":"text","align":"left","baseline":"middle","fontSize":10.5,"color":"black"},"encoding":{"x":{"field":"x","type":"quantitative","axis":null},"y":{"field":"y","type":"quantitative","axis":null},"text":{"field":"s"}}},
{"data":{"name":"leg"},"transform":[{"filter":"datum.t>0"}],"mark":{"type":"text","align":"left","baseline":"middle","fontSize":9.5},"encoding":{"x":{"field":"x","type":"quantitative","axis":null},"y":{"field":"y","type":"quantitative","axis":null},"text":{"field":"s"},"color":{"field":"t","type":"ordinal","legend":null}}},
{"data":{"name":"leg"},"transform":[{"filter":"datum.t===0"}],"mark":{"type":"text","align":"right","baseline":"middle","fontSize":9.5,"color":"black"},"encoding":{"x":{"field":"x","type":"quantitative","axis":null},"y":{"field":"y","type":"quantitative","axis":null},"text":{"field":"s"}}}
]}
],"spacing":0},
{"hconcat":[
{"width":146,"height":122,"resolve":{"axis":{"x":"independent","y":"independent"}},"layer":[
{"data":{"name":"c"},"transform":[{"filter":"datum.p===3"}],"mark":{"type":"line","strokeWidth":1,"clip":true},"encoding":{
"x":{"field":"x","type":"quantitative","scale":{"domain":[-0.2,9.0],"nice":false,"zero":false},"axis":{"orient":"bottom","values":[0,0.2,0.4,0.6,0.8,1,1.2,1.4,1.6,1.8,2,2.2,2.4,2.6,2.8,3,3.2,3.4,3.6,3.8,4,4.2,4.4,4.6,4.8,5,5.2,5.4,5.6,5.8,6,6.2,6.4,6.6,6.8,7,7.2,7.4,7.6,7.8,8,8.2,8.4,8.6,8.8],"labelExpr":"datum.value % 1 === 0 ? '' + datum.value : ''","labelPadding":9,"title":"λ⁻¹ [μm⁻¹]","titlePadding":2,"tickSize":{"condition":{"test":"datum.value % 1 === 0","value":-5},"value":-2.5}}},
"y":{"field":"l","type":"quantitative","scale":{"domain":[-0.1,6.05],"nice":false,"zero":false},"axis":{"orient":"left","values":[0,0.2,0.4,0.6,0.8,1,1.2,1.4,1.6,1.8,2,2.2,2.4,2.6,2.8,3,3.2,3.4,3.6,3.8,4,4.2,4.4,4.6,4.8,5,5.2,5.4,5.6,5.8,6],"labelExpr":"datum.value % 1 === 0 && datum.value < 6 ? '' + datum.value : ''","labelPadding":9,"title":"Aλ/AV","titlePadding":3,"tickSize":{"condition":{"test":"datum.value % 1 === 0","value":-5},"value":-2.5}}},
"color":{"field":"t","type":"ordinal","scale":{"domain":[1,2,4,8,12,16,20],"range":["#ff0000","#ff7f27","#cfef00","#10dd10","#10e0e0","#2f6fff","#6a2fd0"]},"legend":null}}},
{"data":{"name":"c"},"transform":[{"filter":"datum.p===3"}],"mark":{"type":"circle","size":9,"opacity":1,"clip":true},"encoding":{
"x":{"field":"x","type":"quantitative","scale":{"domain":[-0.2,9.0],"nice":false,"zero":false},"axis":{"orient":"top","values":[0,0.2,0.4,0.6,0.8,1,1.2,1.4,1.6,1.8,2,2.2,2.4,2.6,2.8,3,3.2,3.4,3.6,3.8,4,4.2,4.4,4.6,4.8,5,5.2,5.4,5.6,5.8,6,6.2,6.4,6.6,6.8,7,7.2,7.4,7.6,7.8,8,8.2,8.4,8.6,8.8],"labels":false,"title":null,"tickSize":{"condition":{"test":"datum.value % 1 === 0","value":-5},"value":-2.5}}},
"y":{"field":"d","type":"quantitative","scale":{"domain":[-0.1,6.05],"nice":false,"zero":false},"axis":{"orient":"right","values":[0,0.2,0.4,0.6,0.8,1,1.2,1.4,1.6,1.8,2,2.2,2.4,2.6,2.8,3,3.2,3.4,3.6,3.8,4,4.2,4.4,4.6,4.8,5,5.2,5.4,5.6,5.8,6],"labels":false,"title":null,"tickSize":{"condition":{"test":"datum.value % 1 === 0","value":-5},"value":-2.5}}},
"color":{"field":"t","type":"ordinal","scale":{"domain":[1,2,4,8,12,16,20],"range":["#ff0000","#ff7f27","#cfef00","#10dd10","#10e0e0","#2f6fff","#6a2fd0"]},"legend":null}}},
{"data":{"name":"lab"},"transform":[{"filter":"datum.p===3"}],"mark":{"type":"text","align":"left","baseline":"middle","fontSize":10.5,"color":"black"},"encoding":{"x":{"field":"x","type":"quantitative","axis":null},"y":{"field":"y","type":"quantitative","axis":null},"text":{"field":"s"}}},
{"data":{"name":"leg"},"transform":[{"filter":"datum.t>0"}],"mark":{"type":"text","align":"left","baseline":"middle","fontSize":9.5},"encoding":{"x":{"field":"x","type":"quantitative","axis":null},"y":{"field":"y","type":"quantitative","axis":null},"text":{"field":"s"},"color":{"field":"t","type":"ordinal","legend":null}}},
{"data":{"name":"leg"},"transform":[{"filter":"datum.t===0"}],"mark":{"type":"text","align":"right","baseline":"middle","fontSize":9.5,"color":"black"},"encoding":{"x":{"field":"x","type":"quantitative","axis":null},"y":{"field":"y","type":"quantitative","axis":null},"text":{"field":"s"}}}
]},
{"width":146,"height":122,"resolve":{"axis":{"x":"independent","y":"independent"}},"layer":[
{"data":{"name":"c"},"transform":[{"filter":"datum.p===4"}],"mark":{"type":"line","strokeWidth":1,"clip":true},"encoding":{
"x":{"field":"x","type":"quantitative","scale":{"domain":[-0.2,9.0],"nice":false,"zero":false},"axis":{"orient":"bottom","values":[0,0.2,0.4,0.6,0.8,1,1.2,1.4,1.6,1.8,2,2.2,2.4,2.6,2.8,3,3.2,3.4,3.6,3.8,4,4.2,4.4,4.6,4.8,5,5.2,5.4,5.6,5.8,6,6.2,6.4,6.6,6.8,7,7.2,7.4,7.6,7.8,8,8.2,8.4,8.6,8.8],"labelExpr":"datum.value % 1 === 0 ? '' + datum.value : ''","labelPadding":9,"title":"λ⁻¹ [μm⁻¹]","titlePadding":2,"tickSize":{"condition":{"test":"datum.value % 1 === 0","value":-5},"value":-2.5}}},
"y":{"field":"l","type":"quantitative","scale":{"domain":[-0.1,6.05],"nice":false,"zero":false},"axis":{"orient":"left","values":[0,0.2,0.4,0.6,0.8,1,1.2,1.4,1.6,1.8,2,2.2,2.4,2.6,2.8,3,3.2,3.4,3.6,3.8,4,4.2,4.4,4.6,4.8,5,5.2,5.4,5.6,5.8,6],"labels":false,"title":null,"tickSize":{"condition":{"test":"datum.value % 1 === 0","value":-5},"value":-2.5}}},
"color":{"field":"t","type":"ordinal","scale":{"domain":[1,2,4,8,12,16,20],"range":["#ff0000","#ff7f27","#cfef00","#10dd10","#10e0e0","#2f6fff","#6a2fd0"]},"legend":null}}},
{"data":{"name":"c"},"transform":[{"filter":"datum.p===4"}],"mark":{"type":"circle","size":9,"opacity":1,"clip":true},"encoding":{
"x":{"field":"x","type":"quantitative","scale":{"domain":[-0.2,9.0],"nice":false,"zero":false},"axis":{"orient":"top","values":[0,0.2,0.4,0.6,0.8,1,1.2,1.4,1.6,1.8,2,2.2,2.4,2.6,2.8,3,3.2,3.4,3.6,3.8,4,4.2,4.4,4.6,4.8,5,5.2,5.4,5.6,5.8,6,6.2,6.4,6.6,6.8,7,7.2,7.4,7.6,7.8,8,8.2,8.4,8.6,8.8],"labels":false,"title":null,"tickSize":{"condition":{"test":"datum.value % 1 === 0","value":-5},"value":-2.5}}},
"y":{"field":"d","type":"quantitative","scale":{"domain":[-0.1,6.05],"nice":false,"zero":false},"axis":{"orient":"right","values":[0,0.2,0.4,0.6,0.8,1,1.2,1.4,1.6,1.8,2,2.2,2.4,2.6,2.8,3,3.2,3.4,3.6,3.8,4,4.2,4.4,4.6,4.8,5,5.2,5.4,5.6,5.8,6],"labels":false,"title":null,"tickSize":{"condition":{"test":"datum.value % 1 === 0","value":-5},"value":-2.5}}},
"color":{"field":"t","type":"ordinal","scale":{"domain":[1,2,4,8,12,16,20],"range":["#ff0000","#ff7f27","#cfef00","#10dd10","#10e0e0","#2f6fff","#6a2fd0"]},"legend":null}}},
{"data":{"name":"lab"},"transform":[{"filter":"datum.p===4"}],"mark":{"type":"text","align":"left","baseline":"middle","fontSize":10.5,"color":"black"},"encoding":{"x":{"field":"x","type":"quantitative","axis":null},"y":{"field":"y","type":"quantitative","axis":null},"text":{"field":"s"}}},
{"data":{"name":"leg"},"transform":[{"filter":"datum.t>0"}],"mark":{"type":"text","align":"left","baseline":"middle","fontSize":9.5},"encoding":{"x":{"field":"x","type":"quantitative","axis":null},"y":{"field":"y","type":"quantitative","axis":null},"text":{"field":"s"},"color":{"field":"t","type":"ordinal","legend":null}}},
{"data":{"name":"leg"},"transform":[{"filter":"datum.t===0"}],"mark":{"type":"text","align":"right","baseline":"middle","fontSize":9.5,"color":"black"},"encoding":{"x":{"field":"x","type":"quantitative","axis":null},"y":{"field":"y","type":"quantitative","axis":null},"text":{"field":"s"}}}
]}
],"spacing":0}
],"spacing":0}
